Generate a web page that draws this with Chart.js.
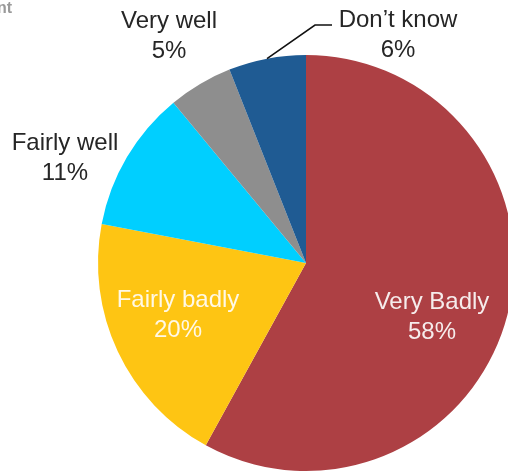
<!DOCTYPE html>
<html>
<head>
<meta charset="utf-8">
<script src="https://cdn.jsdelivr.net/npm/chart.js@4"></script>
<style>
  html, body { margin: 0; padding: 0; background: #fff; overflow: hidden; }
  #wrap { position: absolute; left: 0; top: 0; width: 600px; height: 472px; }
</style>
</head>
<body>
<div id="wrap"><canvas id="pie" width="600" height="472"></canvas></div>
<script>
// data
var labels = ['Very Badly', 'Fairly badly', 'Fairly well', 'Very well', 'Don\u2019t know'];
var values = [58, 20, 11, 5, 6];
var colours = ['#ad4044', '#fec513', '#00cfff', '#8e8e8e', '#1f5b93'];

// where each label sits, relative to the pie centre (px), and its colour
var labelPos = [
    { dx: 126, dy: 46, color: '#f6ecec' },
    { dx: -128, dy: 44, color: '#fff8e6' },
    { dx: -241, dy: -113, color: '#262626' },
    { dx: -137, dy: -235, color: '#262626' },
    { dx: 92, dy: -236, color: '#262626' }
];

var pieLabels = {
    id: 'pieLabels',
    afterDraw: function(chart) {
        var c = chart.ctx;
        var arcs = chart.getDatasetMeta(0).data;
        var cx = arcs[0].x, cy = arcs[0].y, r = arcs[0].outerRadius;
        c.save();
        c.font = '24px "Liberation Sans", Arial, sans-serif';
        c.textAlign = 'center';
        c.textBaseline = 'alphabetic';
        labels.forEach(function(lab, i) {
            var p = labelPos[i];
            c.fillStyle = p.color;
            c.fillText(lab, cx + p.dx, cy + p.dy);
            c.fillText(values[i] + '%', cx + p.dx, cy + p.dy + 30);
        });

        // leader line for the small "Don't know" slice
        var a = arcs[4];
        var mid = (a.startAngle + a.endAngle) / 2;
        var sx = cx + Math.cos(mid) * r, sy = cy + Math.sin(mid) * r;
        c.strokeStyle = '#111';
        c.lineWidth = 1.6;
        c.beginPath();
        c.moveTo(sx, sy);
        c.lineTo(cx + 9, cy - 238);
        c.lineTo(cx + 26, cy - 238);
        c.stroke();

        // cut-off title fragment in the corner
        c.font = 'bold 16px "Liberation Sans", Arial, sans-serif';
        c.fillStyle = '#9a9a9a';
        c.textAlign = 'right';
        c.fillText('nt', 12, 13);
        c.restore();
    }
};

var chart = new Chart(document.getElementById('pie').getContext('2d'), {
    type: 'pie',
    data: {
        labels: labels,
        datasets: [{
            data: values,
            backgroundColor: colours,
            borderWidth: 0
        }]
    },
    options: {
        responsive: false,
        animation: false,
        layout: { padding: { left: 98, right: 86, top: 55, bottom: 1 } },
        plugins: {
            legend: { display: false },
            tooltip: { enabled: false }
        }
    },
    plugins: [pieLabels]
});
</script>
</body>
</html>
